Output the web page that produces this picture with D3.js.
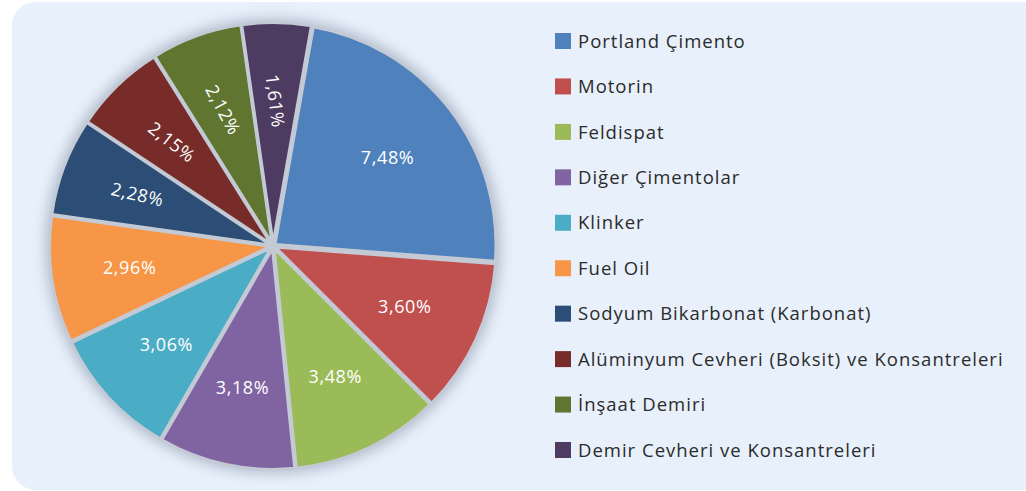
<!DOCTYPE html>
<html>
<head>
<meta charset="utf-8">
<script src="https://cdn.jsdelivr.net/npm/d3@7"></script>
<style>
  body { margin: 0; background: #ffffff; }
  svg { display: block; font-family: "Open Sans", Lato, sans-serif; }
</style>
</head>
<body>
<div id="chart"></div>
<script>
const categories = [
  "Portland Çimento", "Motorin", "Feldispat", "Diğer Çimentolar", "Klinker",
  "Fuel Oil", "Sodyum Bikarbonat (Karbonat)", "Alüminyum Cevheri (Boksit) ve Konsantreleri",
  "İnşaat Demiri", "Demir Cevheri ve Konsantreleri"
];
const values = [7.48, 3.60, 3.48, 3.18, 3.06, 2.96, 2.28, 2.15, 2.12, 1.61];
const labels = ["7,48%", "3,60%", "3,48%", "3,18%", "3,06%", "2,96%", "2,28%", "2,15%", "2,12%", "1,61%"];
const colors = ["#4f81bd", "#c0504d", "#9bbb59", "#8064a2", "#4bacc6",
                "#f79646", "#2c4d75", "#772c2a", "#5f7530", "#4d3b62"];

const width = 1026, height = 491;
const cx = 273, cy = 246, radius = 221;
const startDeg = 10;

const svg = d3.select("#chart").append("svg")
  .attr("width", width).attr("height", height);

const defs = svg.append("defs");
const blur = defs.append("filter").attr("id", "shadow")
  .attr("x", "-20%").attr("y", "-20%").attr("width", "140%").attr("height", "140%");
blur.append("feGaussianBlur").attr("stdDeviation", 7);

// panel background
svg.append("rect")
  .attr("x", 12).attr("y", 2)
  .attr("width", 1034).attr("height", 488)
  .attr("rx", 24)
  .attr("fill", "#e8f0fb");

const g = svg.append("g").attr("transform", `translate(${cx},${cy})`);

// soft shadow round the pie
g.append("circle")
  .attr("r", radius + 6)
  .attr("fill", "#aeb8c8")
  .attr("filter", "url(#shadow)");
g.append("circle")
  .attr("r", radius + 2)
  .attr("fill", "#c3cad5");

const pie = d3.pie().sort(null)
  .startAngle(startDeg * Math.PI / 180)
  .endAngle(startDeg * Math.PI / 180 + 2 * Math.PI);
const arcs = pie(values);

const arc = d3.arc().innerRadius(0).outerRadius(radius);
const labelArc = d3.arc().innerRadius(145).outerRadius(145);
const explode = 2.5;

g.selectAll("path.slice")
  .data(arcs)
  .join("path")
  .attr("class", "slice")
  .attr("transform", d => {
    const a = (d.startAngle + d.endAngle) / 2;
    return `translate(${Math.sin(a) * explode},${-Math.cos(a) * explode})`;
  })
  .attr("d", arc)
  .attr("fill", (d, i) => colors[i])
  .attr("stroke", "#c3cad5")
  .attr("stroke-width", 3)
  .attr("stroke-linejoin", "round");

g.selectAll("text.pct")
  .data(arcs)
  .join("text")
  .attr("class", "pct")
  .attr("transform", (d, i) => {
    const [x, y] = labelArc.centroid(d);
    const midDeg = (d.startAngle + d.endAngle) / 2 * 180 / Math.PI;
    const rot = values[i] < 2.5 ? 90 + (midDeg > 180 ? midDeg - 360 : midDeg) - 8 : 0;
    return `translate(${x},${y}) rotate(${rot})`;
  })
  .attr("text-anchor", "middle")
  .attr("dy", "0.36em")
  .attr("fill", "#ffffff")
  .attr("font-size", 18)
  .attr("letter-spacing", 0.6)
  .text((d, i) => labels[i]);

// legend
const legendY = d3.scalePoint().domain(categories).range([41, 450]);
const legend = svg.append("g").selectAll("g")
  .data(categories)
  .join("g")
  .attr("transform", d => `translate(555,${legendY(d)})`);

legend.append("rect")
  .attr("x", 0).attr("y", -8)
  .attr("width", 16).attr("height", 16)
  .attr("fill", (d, i) => colors[i]);

legend.append("text")
  .attr("x", 23).attr("y", 0)
  .attr("dy", "0.36em")
  .attr("font-size", 18.5)
  .attr("letter-spacing", 1)
  .attr("fill", "#2b2b2b")
  .text(d => d);
</script>
</body>
</html>
